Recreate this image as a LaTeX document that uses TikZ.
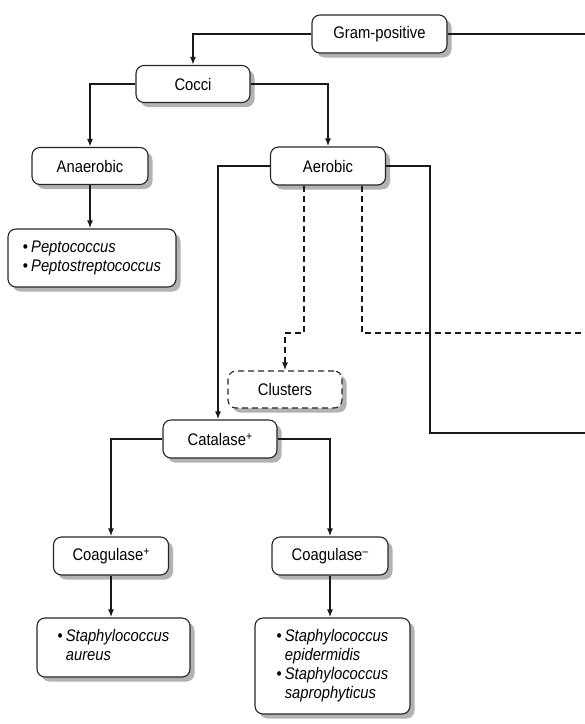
\documentclass[tikz,border=0pt]{standalone}
\usepackage{fontspec}
\setmainfont{Liberation Sans}[FakeStretch=0.88]
\usetikzlibrary{shadows,arrows.meta}
\newcommand{\supsign}[1]{\raisebox{0.55ex}{\fontsize{12}{12}\selectfont #1}}
\begin{document}
\begin{tikzpicture}[x=1pt,y=-1pt,
  box/.style={draw=black!85,line width=1.1pt,rounded corners=8pt,fill=white,
    drop shadow={shadow xshift=4.5pt,shadow yshift=-4.5pt,fill=black!30,opacity=1},
    font=\fontsize{16.8}{19}\selectfont,inner sep=4pt},
  conn/.style={line width=1.6pt,draw=black!90},
  arr/.style={conn,-{Latex[length=8pt,width=6pt]}},
  dsh/.style={dash pattern=on 6pt off 4pt}]
\useasboundingbox (0,0) rectangle (585,724);
\node[box,minimum width=135pt,minimum height=38pt] (gp) at (379.5,34) {Gram-positive};
\node[box,minimum width=114pt,minimum height=37pt] (cocci) at (193,84) {Cocci};
\node[box,minimum width=116pt,minimum height=37pt] (anaer) at (90,166) {Anaerobic};
\node[box,minimum width=115pt,minimum height=38pt] (aer) at (328,166) {Aerobic};
\node[box,minimum width=168pt,minimum height=58pt,align=left] (pept) at (92,258)
  {\begin{tabular}{@{}l@{\hspace{3pt}}l@{}}•&\textit{Peptococcus}\\•&\textit{Peptostreptococcus}\end{tabular}};
\node[box,dsh,minimum width=114pt,minimum height=37pt] (clus) at (285,389.5) {Clusters};
\node[box,minimum width=114pt,minimum height=38pt] (cat) at (220,439) {Catalase\supsign{+}};
\node[box,minimum width=115pt,minimum height=38pt] (cp) at (111,556) {Coagulase\supsign{+}};
\node[box,minimum width=116pt,minimum height=38pt] (cm) at (330,556) {Coagulase\supsign{–}};
\node[box,minimum width=153pt,minimum height=59pt] (sa) at (113.5,647.5)
  {\begin{tabular}{@{}l@{\hspace{3pt}}l@{}}•&\textit{Staphylococcus}\\&\textit{aureus}\end{tabular}};
\node[box,minimum width=155pt,minimum height=96pt] (se) at (332.5,666)
  {\begin{tabular}{@{}l@{\hspace{3pt}}l@{}}•&\textit{Staphylococcus}\\&\textit{epidermidis}\\•&\textit{Staphylococcus}\\&\textit{saprophyticus}\end{tabular}};
\coordinate (r1) at (585,34);
\coordinate (r2) at (585,433);
\coordinate (r3) at (585,333);
\draw[arr] (gp.west) -| (cocci.north);
\draw[conn] (gp.east) -- (r1);
\draw[arr] (cocci.west) -| (anaer.north);
\draw[arr] (cocci.east) -| (aer.north);
\draw[arr] (anaer.south) -- (pept.north -| anaer.south);
\draw[arr] (aer.west) -| ([xshift=-2pt]cat.north);
\draw[conn] (aer.east) -- (430,166) |- (r2);
\draw[arr,dsh] ([xshift=-24pt]aer.south) -- (304,333) -| (clus.north);
\draw[conn,dsh] ([xshift=34pt]aer.south) -- (362,333) -- (r3);
\draw[arr] (cat.west) -| (cp.north);
\draw[arr] (cat.east) -| (cm.north);
\draw[arr] (cp.south) -- (sa.north -| cp.south);
\draw[arr] (cm.south) -- (se.north -| cm.south);
\end{tikzpicture}
\end{document}
